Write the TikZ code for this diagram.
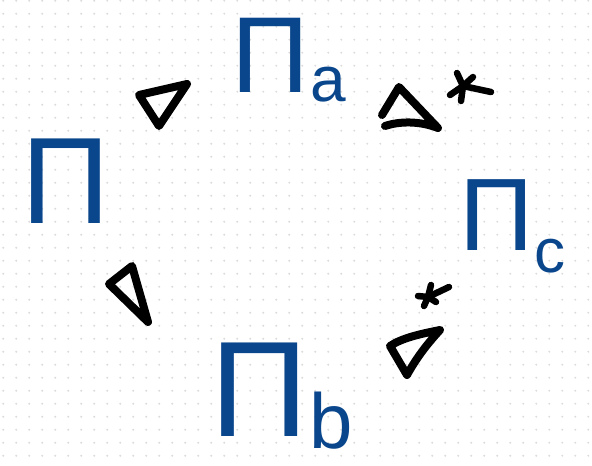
\documentclass[tikz,border=0pt]{standalone}
\usepackage{fontspec}
\newfontfamily\handfont{Liberation Sans}
\usetikzlibrary{positioning}
\definecolor{inkblue}{HTML}{0A468C}
\definecolor{griddot}{HTML}{DCDCDC}
\newcommand{\lowsub}[4]{\kern#1pt\raisebox{-#2pt}{\fontsize{#3}{#3}\selectfont #4}}

\begin{document}
\begin{tikzpicture}[
    x=1pt, y=-1pt,
    grp/.style={inner sep=0pt, text=inkblue, anchor=base west},
    rel/.style={draw=black, line width=8pt, line cap=round, line join=round},
    star/.style={draw=black, line width=6.5pt, line cap=round}
  ]
  \useasboundingbox (0,0) rectangle (592,466);
  % ----- dotted paper -----
  \foreach \i in {0,...,45}
    \foreach \j in {0,...,35}
      \fill[griddot] (3.3+13*\i, 0.7+13*\j) circle (1.1);

  % ----- groups -----
  \node[grp, font=\handfont\fontsize{123}{123}\selectfont] (pi)  at (21,223)  {Π};
  \node[grp, font=\handfont\fontsize{108}{108}\selectfont] (pia) at (231,92)  {Π\lowsub{1}{9}{64}{a}};
  \node[grp, font=\handfont\fontsize{103}{103}\selectfont] (pic) at (459,250) {Π\lowsub{1}{22}{62}{c}};
  \node[grp, font=\handfont\fontsize{136}{136}\selectfont] (pib) at (210,436) {Π\lowsub{1}{12}{78}{b}};

  % ----- normal subgroup signs -----
  \draw[rel] (139,95) -- (187,84) -- (159,126) -- cycle;
  \draw[rel] (382,115) -- (399,87) -- (438,128)
             .. controls (420,121) and (400,121) .. (385,126);
  \draw[rel] (132,266) -- (109,284) -- (148,322) -- cycle;
  \draw[rel] (440,330) .. controls (420,334) and (402,338) .. (390,346)
             -- (407,375) .. controls (418,355) and (430,341) .. (440,330);

  % ----- stars -----
  \coordinate (s1) at (463,86);
  \foreach \p in {(457,73),(473,77),(491,92),(461,101),(450,95)}
    \draw[star] (s1) -- \p;
  \coordinate (s2) at (428,297);
  \foreach \p in {(431,285),(449,287),(418,296),(424,306),(436,302)}
    \draw[star] (s2) -- \p;
\end{tikzpicture}
\end{document}
